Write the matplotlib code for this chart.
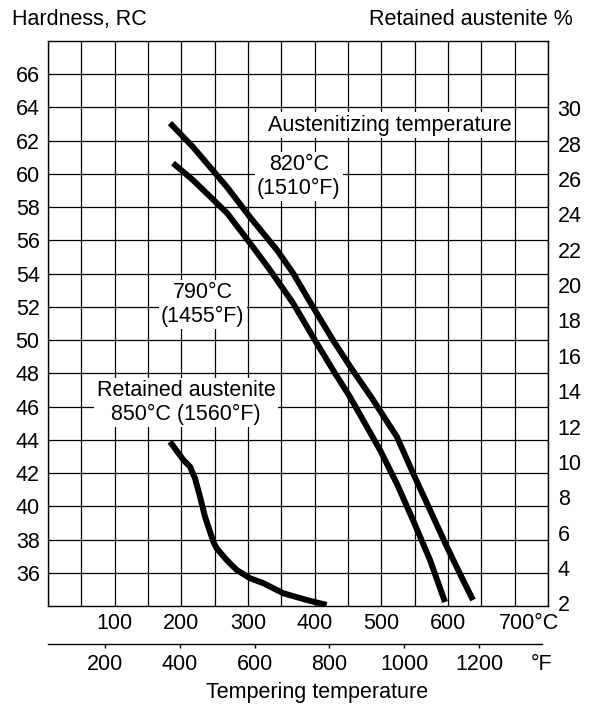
import matplotlib
matplotlib.use("Agg")
import matplotlib.pyplot as plt
import matplotlib.transforms as mtransforms
import numpy as np

plt.rcParams['font.family'] = ['Liberation Sans', 'DejaVu Sans']
FS = 15.5

# Hardness curves (tempering temperature in degC, hardness HRC)
t_820 = [183, 217.5, 268.5, 303, 343.5, 367.5, 397.5, 427.5, 455, 486, 523.5, 547.5, 573, 598.5, 622.5, 637.5]
h_820 = [63.06, 61.62, 59.21, 57.40, 55.42, 54.04, 51.99, 50.00, 48.3, 46.5, 44.17, 42.00, 39.78, 37.55, 35.56, 34.36]

t_790 = [187.5, 217.5, 268.5, 303, 333, 367.5, 397.5, 427.5, 453, 498, 523.5, 547.5, 573, 595.5]
h_790 = [60.65, 59.63, 57.65, 55.84, 54.22, 52.23, 50.19, 48.20, 46.58, 43.39, 41.34, 39.17, 36.77, 34.24]

# Retained austenite, 850 degC austenitized (percent)
t_ra = [183, 203, 213, 220.5, 228, 235.5, 240.5, 248, 253, 268, 283, 303, 323, 353, 388, 418]
ra = [11.14, 10.11, 9.73, 9.07, 8.03, 6.90, 6.33, 5.49, 5.11, 4.45, 3.89, 3.42, 3.14, 2.57, 2.19, 1.91]

c_ticks = [100, 200, 300, 400, 500, 600, 700]
f_ticks = [200, 400, 600, 800, 1000, 1200]
h_ticks = list(range(36, 67, 2))
ra_ticks = list(range(2, 31, 2))

W, H = 591, 706
fig = plt.figure(figsize=(W / 100, H / 100), dpi=100)

# main axes, pixel box 48..548 x 41..606
ax = fig.add_axes([48 / W, 1 - 606 / H, 500 / W, 565 / H])
ax.set_xlim(0, 750)
ax.set_ylim(34, 68)
xt = np.arange(0, 751, 50)
ax.set_xticks(xt)
ax.set_xticklabels([('700°C' if v == 700 else str(v)) if v in c_ticks else '' for v in xt])
ax.set_yticks(h_ticks)
ax.grid(True, color='black', linewidth=0.9)
ax.set_axisbelow(True)
ax.tick_params(axis='both', length=0, labelsize=FS)
ax.tick_params(axis='x', pad=5)
ax.tick_params(axis='y', pad=6)
for s in ax.spines.values():
    s.set_linewidth(1.0)

# "700°C" sits with its number over the 700 line
for lab in ax.get_xticklabels():
    if lab.get_text() == '700°C':
        lab.set_transform(lab.get_transform() + mtransforms.ScaledTranslation(0.14, 0, fig.dpi_scale_trans))

lw = 4.3
ax.plot(t_820, h_820, color='black', linewidth=lw, solid_capstyle='butt', solid_joinstyle='round')
ax.plot(t_790, h_790, color='black', linewidth=lw, solid_capstyle='butt', solid_joinstyle='round')

ax2 = ax.twinx()
ax2.set_ylim(1.85, 33.8)
ax2.set_yticks(ra_ticks)
ax2.tick_params(axis='y', length=0, labelsize=FS, pad=7)
for s in ax2.spines.values():
    s.set_visible(False)
ax2.plot(t_ra, ra, color='black', linewidth=lw, solid_capstyle='butt', solid_joinstyle='round')

box = dict(facecolor='white', edgecolor='none', pad=1.5)
ax.text(513, 62.94, 'Austenitizing temperature', fontsize=FS, ha='center', va='center', bbox=box)
ax.text(376, 59.84, '820°C\n(1510°F)', fontsize=FS, ha='center', va='center', bbox=box)
ax.text(232, 52.14, '790°C\n(1455°F)', fontsize=FS, ha='center', va='center', bbox=box)
ax.text(207, 46.24, 'Retained austenite\n850°C (1560°F)', fontsize=FS, ha='center', va='center', bbox=box)

# Fahrenheit scale
fax = fig.add_axes([48 / W, 1 - 644 / H, 494 / W, 0.0001])
fax.patch.set_visible(False)
for side in ['top', 'left', 'right']:
    fax.spines[side].set_visible(False)
fax.spines['bottom'].set_linewidth(1.0)
fax.set_yticks([])
fax.set_xlim(47.6, 1368)
fax.set_xticks(f_ticks + [1368])
fax.set_xticklabels([str(v) for v in f_ticks] + ['°F'])
fax.tick_params(axis='x', direction='out', length=3, width=1.0, labelsize=FS, pad=4)
fax.xaxis.get_major_ticks()[-1].tick1line.set_visible(False)

fig.text(12 / W, 1 - 25 / H, 'Hardness, RC', fontsize=FS, ha='left', va='baseline')
fig.text(573 / W, 1 - 25 / H, 'Retained austenite %', fontsize=FS, ha='right', va='baseline')
fig.text(317 / W, 1 - 698 / H, 'Tempering temperature', fontsize=FS, ha='center', va='baseline')

fig.savefig('out.png', dpi=100)
